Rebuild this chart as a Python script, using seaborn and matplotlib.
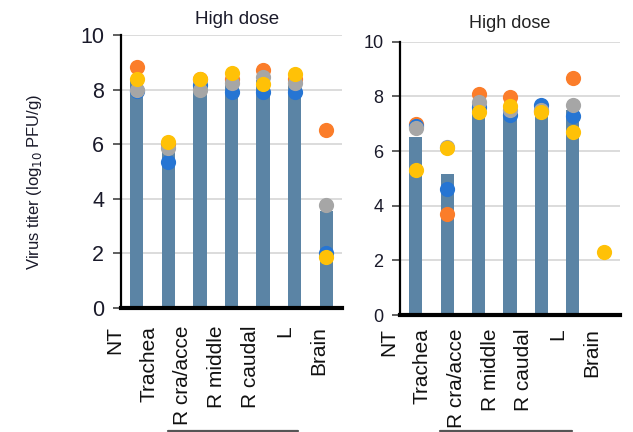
import numpy as np
import pandas as pd
import matplotlib
matplotlib.use("Agg")
import matplotlib.pyplot as plt
from matplotlib.lines import Line2D
import seaborn as sns

sns.set_theme(style="white")
plt.rcParams["font.family"] = ["Liberation Sans", "DejaVu Sans"]

# Tissue categories (NT = nasal turbinates)
categories = ["NT", "Trachea", "R cra/acce", "R middle", "R caudal", "L", "Brain"]

# Left panel: high dose, group 1 (log10 PFU/g)
left_mean = [8.35, 5.85, 8.2, 8.3, 8.35, 8.3, 3.55]
left_orange = [8.82, 6.0, 8.4, 8.4, 8.72, 8.4, 6.52]
left_blue = [7.95, 5.36, 8.17, 7.92, 7.92, 7.92, 2.0]
left_gray = [8.0, 5.85, 8.0, 8.23, 8.47, 8.23, 3.77]
left_yellow = [8.37, 6.09, 8.38, 8.6, 8.19, 8.58, 1.87]

# Right panel: high dose, group 2 (log10 PFU/g)
right_mean = [6.52, 5.16, 7.74, 7.5, 7.45, 7.5, 0.0]
right_orange = [6.99, 3.70, 8.1, 7.99, 7.45, 8.66, np.nan]
right_blue = [6.9, 4.61, 7.6, 7.32, 7.68, 7.28, np.nan]
right_gray = [6.83, 6.15, 7.8, 7.5, 7.5, 7.68, np.nan]
right_yellow = [5.31, 6.10, 7.44, 7.65, 7.44, 6.71, 2.32]

panel_title = "High dose"
ylabel = r"Virus titer (log$_{10}$ PFU/g)"

bar_color = "#5b84a5"
dot_colors = {"orange": "#fb7d2a", "blue": "#2675d3", "gray": "#a6a6a6", "yellow": "#ffc107"}

fig = plt.figure(figsize=(6.33, 4.32), dpi=100)

ax_l = fig.add_axes([121 / 633, 1 - 308 / 432, 221 / 633, 273 / 432])
ax_r = fig.add_axes([400 / 633, 1 - 315 / 432, 220 / 633, 273.3 / 432])


def draw_panel(ax, mean, orange, blue, gray, yellow, tick_fs, label_start, label_y):
    idx = np.arange(len(categories))
    df = pd.DataFrame({"tissue": categories, "titer": mean})
    sns.barplot(data=df, x="tissue", y="titer", order=categories, color=bar_color,
                width=0.42, saturation=1, ax=ax, zorder=2, linewidth=0)
    for vals, key in [(orange, "orange"), (blue, "blue"), (gray, "gray"), (yellow, "yellow")]:
        d = pd.DataFrame({"pos": idx, "v": vals}).dropna()
        sns.scatterplot(data=d, x="pos", y="v", color=dot_colors[key], s=120,
                        linewidth=0, ax=ax, zorder=3, legend=False)
    ax.set_xlim(-0.5, 6.5)
    ax.set_ylim(0, 10)
    ax.set_yticks([0, 2, 4, 6, 8, 10])
    ax.set_xticks([])
    ax.set_xlabel("")
    ax.set_ylabel("")
    ax.grid(axis="y", color="#d9d9d9", linewidth=1.3, zorder=0)
    ax.set_axisbelow(True)
    for s in ["top", "right"]:
        ax.spines[s].set_visible(False)
    ax.spines["left"].set_color("black")
    ax.spines["left"].set_linewidth(1.6)
    ax.spines["bottom"].set_color("black")
    ax.spines["bottom"].set_linewidth(3)
    ax.tick_params(axis="y", length=6, width=1.2, color="#444444", pad=6,
                   labelsize=tick_fs, left=True)
    for t in ax.get_yticklabels():
        t.set_color("#1a1a2a")
    # Category labels, spaced slightly wider than the bars
    for i, name in enumerate(categories):
        ax.text(label_start + 1.075 * i, label_y, name, transform=ax.get_xaxis_transform(),
                rotation=90, ha="center", va="top", fontsize=15, color="#111111",
                clip_on=False)


draw_panel(ax_l, left_mean, left_orange, left_blue, left_gray, left_yellow,
           15.5, -0.70, -0.065)
draw_panel(ax_r, right_mean, right_orange, right_blue, right_gray, right_yellow,
           13, -0.86, -0.048)

fig.text(237 / 633, 1 - 19.5 / 432, panel_title, ha="center", va="center", fontsize=13.5,
         color="#1a1a2a")
fig.text(510 / 633, 1 - 24 / 432, panel_title, ha="center", va="center", fontsize=13,
         color="#222222")
fig.text(35 / 633, 1 - 182 / 432, ylabel, rotation=90, ha="center", va="center",
         fontsize=12, color="#1a1a2a")

# Brackets under the lung lobes
for x0, x1 in [(168, 298), (440, 572)]:
    fig.add_artist(Line2D([x0 / 633, x1 / 633], [1 - 430.5 / 432] * 2,
                          transform=fig.transFigure, color="#555555", linewidth=1.6))

fig.savefig("out.png", dpi=100)
